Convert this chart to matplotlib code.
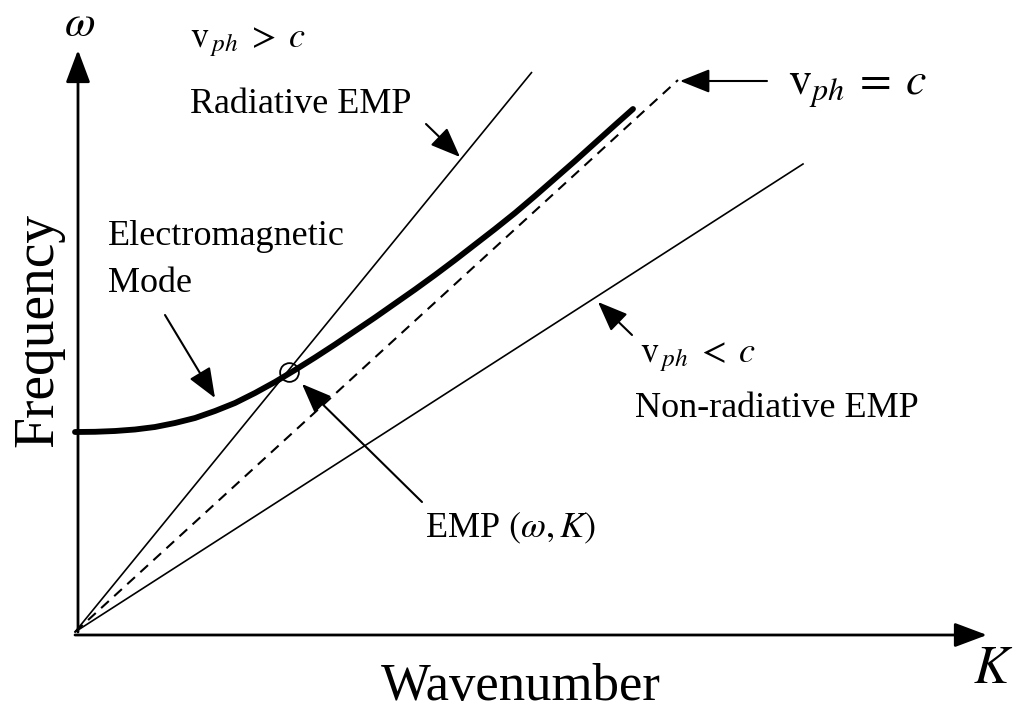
import matplotlib
matplotlib.use("Agg")
import matplotlib.pyplot as plt

plt.rcParams['font.family'] = ['Liberation Serif', 'DejaVu Serif']
plt.rcParams['mathtext.fontset'] = 'stix'

# ---- data (K in arbitrary units, omega in arbitrary units) ----
mode_k = [0.0, 0.2, 0.4, 0.6, 0.8, 1.0, 1.2, 1.4, 1.6, 1.8, 2.0, 2.2, 2.4, 2.6,
          2.8, 3.0, 3.2, 3.4, 3.6, 3.8, 4.0, 4.2, 4.4, 4.6, 4.8, 5.0, 5.2, 5.4, 5.58]
mode_w = [2.000, 2.002, 2.010, 2.025, 2.050, 2.090, 2.140, 2.210, 2.290, 2.390,
          2.500, 2.620, 2.745, 2.875, 3.010, 3.145, 3.285, 3.425, 3.570, 3.720,
          3.875, 4.030, 4.190, 4.360, 4.535, 4.710, 4.890, 5.070, 5.230]

fast_k = [0.0, 4.57]
fast_w = [0.0, 5.60]
light_k = [0.0, 6.03]
light_w = [0.0, 5.52]
slow_k = [0.0, 7.28]
slow_w = [0.0, 4.68]

emp_k = [2.14]
emp_w = [2.60]

fig = plt.figure(figsize=(10.16, 7.10), dpi=100)
ax = fig.add_axes([0, 0, 1, 1])
ax.set_xlim(-0.75, 9.41)
ax.set_ylim(-0.78, 6.32)
ax.axis('off')

# coordinate axes with arrows
axis_kw = dict(arrowstyle='-|>,head_length=0.8,head_width=0.3', color='black',
               lw=2.0, mutation_scale=25, shrinkA=0, shrinkB=0)
ax.annotate('', xy=(9.12, -0.03), xytext=(0, -0.03), arrowprops=axis_kw)
ax.annotate('', xy=(0.03, 5.82), xytext=(0.03, 0), arrowprops=axis_kw)

# lines
ax.plot(fast_k, fast_w, color='black', lw=1.2, solid_capstyle='butt')
ax.plot(light_k, light_w, color='black', lw=1.5, linestyle=(0, (5, 3.5)))
ax.plot(slow_k, slow_w, color='black', lw=1.2)
ax.plot(mode_k, mode_w, color='black', lw=4.2, solid_capstyle='round',
        solid_joinstyle='round')
ax.plot(emp_k, emp_w, marker='o', markersize=13.5, markerfacecolor='none',
        markeredgecolor='black', markeredgewidth=1.3, linestyle='none')

# annotation arrows
arr_kw = dict(arrowstyle='-|>,head_length=0.8,head_width=0.32', color='black',
              lw=1.5, mutation_scale=23, shrinkA=0, shrinkB=0)
ax.annotate('', xy=(3.85, 4.75), xytext=(3.51, 5.08), arrowprops=arr_kw)
ax.annotate('', xy=(6.05, 5.51), xytext=(6.92, 5.51), arrowprops=arr_kw)
ax.annotate('', xy=(1.40, 2.34), xytext=(0.90, 3.17), arrowprops=arr_kw)
ax.annotate('', xy=(2.27, 2.48), xytext=(3.47, 1.30), arrowprops=arr_kw)
ax.annotate('', xy=(5.23, 3.30), xytext=(5.57, 2.97), arrowprops=arr_kw)

# texts
fs = 26
ax.text(1.15, 5.85, r'$\mathrm{v}_{\,ph}\;>\;c$', fontsize=fs, va='baseline', ha='left')
ax.text(1.15, 5.19, 'Radiative EMP', fontsize=fs, va='baseline', ha='left')
ax.text(7.13, 5.37, r'$\mathrm{v}_{ph}\:=\:c$', fontsize=33, va='baseline', ha='left')
ax.text(0.33, 3.87, 'Electromagnetic', fontsize=fs, va='baseline', ha='left')
ax.text(0.33, 3.40, 'Mode', fontsize=fs, va='baseline', ha='left')
ax.text(3.50, 0.95, r'EMP $(\omega, K)$', fontsize=fs, va='baseline', ha='left')
ax.text(5.65, 2.70, r'$\mathrm{v}_{\,ph}\;<\;c$', fontsize=fs, va='baseline', ha='left')
ax.text(5.60, 2.15, 'Non-radiative EMP', fontsize=fs, va='baseline', ha='left')

ax.text(4.46, -0.68, 'Wavenumber', fontsize=38, va='baseline', ha='center')
ax.text(-0.37, 3.02, 'Frequency', fontsize=40, va='center', ha='center', rotation=90)
ax.text(0.05, 6.07, r'$\omega$', fontsize=32, va='center', ha='center')
ax.text(9.18, -0.38, r'$K$', fontsize=38, va='center', ha='center')

fig.savefig('out.png', dpi=100)
